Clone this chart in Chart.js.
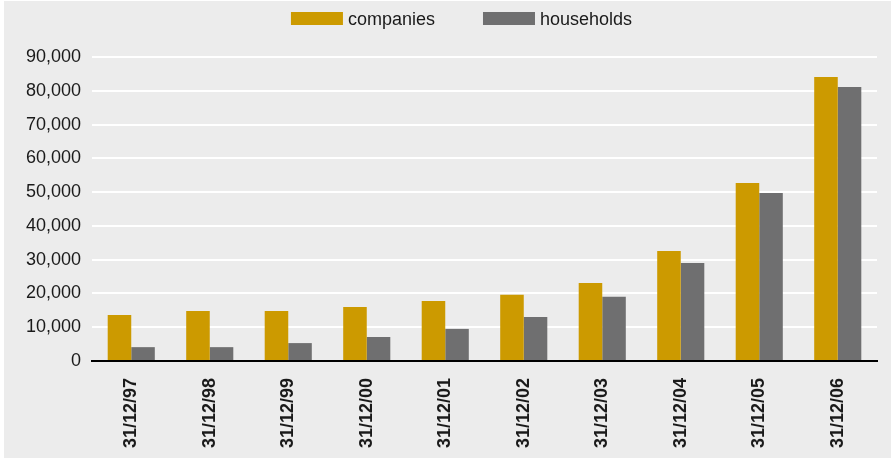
<!DOCTYPE html>
<html>
<head>
<meta charset="utf-8">
<script src="https://cdn.jsdelivr.net/npm/chart.js@4.4.1/dist/chart.umd.min.js"></script>
<style>
  html, body { margin: 0; padding: 0; background: #ffffff; }
  #wrap { position: absolute; left: 4px; top: 1px; width: 887px; height: 457px; background: #ececec; }
  canvas { display: block; }
</style>
</head>
<body>
<div id="wrap"><canvas id="stockChart" width="887" height="457"></canvas></div>
<script>
// ── Data ──────────────────────────────────────────────
const dates = ['31/12/97', '31/12/98', '31/12/99', '31/12/00', '31/12/01',
               '31/12/02', '31/12/03', '31/12/04', '31/12/05', '31/12/06'];
const companies  = [13600, 14800, 14800, 16000, 17800, 19600, 23100, 32600, 52700, 84100];
const households = [4100, 4100, 5300, 7100, 9500, 13000, 19000, 29000, 49700, 81100];
const yTicks = [0, 10000, 20000, 30000, 40000, 50000, 60000, 70000, 80000, 90000];

const GOLD = '#cc9a00';
const GREY = '#6f6f70';
const TEXT = '#1a1a1a';
const FONT = '"Liberation Sans", Arial, Helvetica, sans-serif';

// ── Legend row across the top ─────────────────────────
const legendRow = {
  id: 'legendRow',
  afterDraw(chart) {
    const ctx = chart.ctx;
    const sets = chart.data.datasets;
    const boxW = 52, boxH = 13, gap = 5, spacing = 48, center = 457.5, base = 24;
    ctx.save();
    ctx.font = '18px ' + FONT;
    ctx.textBaseline = 'alphabetic';
    ctx.textAlign = 'left';
    const widths = sets.map(ds => boxW + gap + ctx.measureText(ds.label).width);
    const total = widths.reduce((a, b) => a + b, 0) + spacing * (sets.length - 1);
    let x = center - total / 2;
    sets.forEach((ds, i) => {
      ctx.fillStyle = ds.backgroundColor;
      ctx.fillRect(x, base - boxH, boxW, boxH);
      ctx.fillStyle = TEXT;
      ctx.fillText(ds.label, x + boxW + gap, base);
      x += widths[i] + spacing;
    });
    ctx.restore();
  }
};

const ctx = document.getElementById('stockChart').getContext('2d');

new Chart(ctx, {
  type: 'bar',
  data: {
    labels: dates,
    datasets: [
      { label: 'companies', data: companies, backgroundColor: GOLD, borderWidth: 0 },
      { label: 'households', data: households, backgroundColor: GREY, borderWidth: 0 }
    ]
  },
  options: {
    responsive: false,
    animation: false,
    layout: { padding: { top: 56, right: 14, bottom: 0, left: 0 } },
    datasets: {
      bar: { categoryPercentage: 0.6, barPercentage: 1.0 }
    },
    plugins: {
      legend: { display: false },
      tooltip: { enabled: false }
    },
    scales: {
      x: {
        grid: { display: false, drawTicks: false },
        border: { display: true, color: '#000000', width: 2 },
        ticks: {
          color: TEXT,
          font: { family: FONT, size: 18, weight: 'bold' },
          minRotation: 90,
          maxRotation: 90,
          autoSkip: false,
          padding: 17
        },
        afterFit(scale) { scale.height = 97; }
      },
      y: {
        min: 0,
        max: 90000,
        afterBuildTicks(scale) { scale.ticks = yTicks.map(v => ({ value: v })); },
        grid: { color: '#ffffff', lineWidth: 2, drawTicks: false },
        border: { display: false },
        ticks: {
          color: TEXT,
          font: { family: FONT, size: 18 },
          padding: 11,
          callback: v => v.toLocaleString('en-US')
        },
        afterFit(scale) { scale.width = 88; }
      }
    }
  },
  plugins: [legendRow]
});
</script>
</body>
</html>
